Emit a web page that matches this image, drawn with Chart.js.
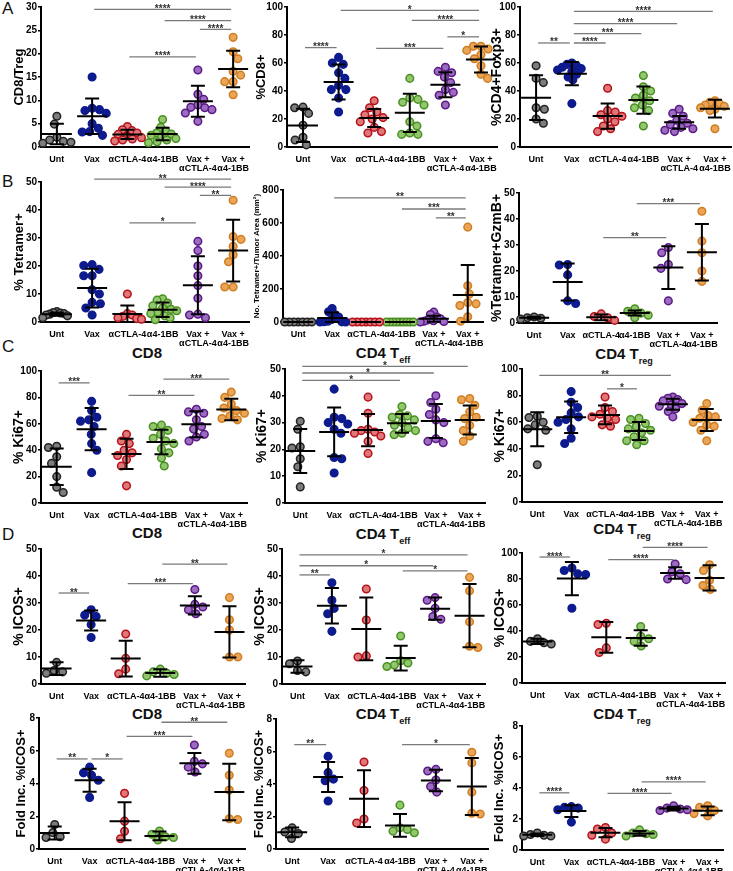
<!DOCTYPE html>
<html><head><meta charset="utf-8">
<script src="https://cdn.jsdelivr.net/npm/chart.js@4.4.1/dist/chart.umd.min.js"></script>
<style>
body{margin:0;background:#fff;}
#fig{position:relative;width:733px;height:871px;overflow:hidden;font-family:"Liberation Sans",Arial,Helvetica,sans-serif;background:#fff;}
canvas{position:absolute;}
.lt{position:absolute;font-size:17px;line-height:1;color:#111;}
.pt{position:absolute;font-size:15px;line-height:1;font-weight:bold;transform:translateX(-50%);white-space:nowrap;color:#111;}
.pt sub{font-size:9px;vertical-align:-5px;line-height:1;}
</style></head><body><div id="fig">
<div class="lt" style="left:2px;top:0px">A</div>
<div class="lt" style="left:2px;top:173px">B</div>
<div class="lt" style="left:2px;top:338px">C</div>
<div class="lt" style="left:2px;top:526px">D</div>
<div class="pt" style="left:147px;top:345px">CD8</div>
<div class="pt" style="left:383px;top:345px">CD4 T<sub>eff</sub></div>
<div class="pt" style="left:624px;top:346px">CD4 T<sub>reg</sub></div>
<div class="pt" style="left:147px;top:525px">CD8</div>
<div class="pt" style="left:383px;top:526px">CD4 T<sub>eff</sub></div>
<div class="pt" style="left:622px;top:521px">CD4 T<sub>reg</sub></div>
<div class="pt" style="left:147px;top:706px">CD8</div>
<div class="pt" style="left:383px;top:706px">CD4 T<sub>eff</sub></div>
<div class="pt" style="left:622px;top:706px">CD4 T<sub>reg</sub></div>
</div>
<script>
// ---------- categories ----------
const groups = [["Unt"], ["Vax"], ["αCTLA-4"], ["α4-1BB"], ["Vax +", "αCTLA-4"], ["Vax +", "α4-1BB"]];
const groupBorder = ['#222222', '#0d1b8e', '#b5121b', '#4a8f23', '#5b1a86', '#d07e22'];
const groupFill   = ['#7d7d7d', '#0d1b8e', '#e0787a', '#93c76e', '#9b6cc0', '#eaa558'];

// ---------- A: CD8/Treg ----------
const A1_points = [
  [6.6, 4.9, 2.1, 1.5, 1.2, 1.0, 0.8],
  [15.0, 8.3, 8.0, 7.8, 7.2, 5.0, 4.0, 3.3, 3.2, 2.5],
  [4.4, 3.7, 3.5, 3.0, 2.7, 2.3, 2.0, 1.7, 1.5, 1.3],
  [5.9, 4.2, 3.4, 3.0, 2.8, 2.5, 2.2, 1.8, 1.5, 1.1, 0.9],
  [16.5, 11.3, 10.2, 9.0, 8.5, 8.4, 8.0, 7.3, 5.5],
  [23.5, 20.4, 18.9, 16.2, 15.4, 14.0, 14.0, 11.2]
];
const A1_mean = [2.8, 6.6, 2.7, 2.8, 9.8, 16.7];
const A1_sd = [2.2, 3.8, 1.0, 1.35, 3.3, 3.9];
const A1_sig = [[2, 6, 29.5, "****"], [4, 6, 27.1, "****"], [5, 6, 25.2, "****"], [3, 5, 19.3, "****"]];

// ---------- A: %CD8+ ----------
const A2_points = [
  [28.5, 28, 24, 15.5, 7, 5, 1.5],
  [64, 60, 59, 53, 49, 44, 41, 41, 35, 25],
  [33, 28, 25, 23, 21, 20, 18, 14, 11, 10],
  [49, 35, 34, 32, 30, 18, 15, 10, 9, 9],
  [57, 54, 53, 50, 46, 41, 39, 37, 30],
  [72, 72, 70, 69, 66, 63, 58, 52, 49]
];
const A2_mean = [15.4, 46.5, 20.7, 24.4, 44.5, 62.5];
const A2_sd = [11.9, 12.5, 6.5, 13.6, 8.9, 9.3];
const A2_sig = [[1, 2, 71, "****"], [2, 6, 97.6, "*"], [4, 6, 90.5, "****"], [5, 6, 78.7, "*"], [3, 5, 70.4, "***"]];

// ---------- A: %CD4+Foxp3+ ----------
const A3_points = [
  [58, 49, 46, 28, 27, 20, 17],
  [60, 59, 58, 57, 56, 55, 54, 52, 50, 48, 31],
  [42, 26, 25, 23, 22, 20, 18, 15, 13, 11],
  [51, 43, 40, 37, 35, 33, 30, 28, 26, 15],
  [27, 24, 22, 19, 17, 16, 14, 13, 12, 11],
  [33, 32, 31, 30, 29, 28, 27, 26, 13]
];
const A3_mean = [35.2, 52.4, 22.1, 33.5, 17.6, 27.4];
const A3_sd = [16, 8.3, 9, 9.8, 4.5, 6.4];
const A3_sig = [[1, 2, 74.3, "**"], [2, 3, 74.3, "****"], [2, 4, 81, "***"], [2, 5, 88.1, "****"], [2, 6, 96.9, "****"]];

// ---------- B: % Tetramer+ ----------
const B1_points = [
  [3.7, 3.4, 3.2, 3.0, 2.8, 2.5, 2.2, 1.5],
  [20.5, 20.2, 18.8, 16.5, 16.5, 11.5, 10.0, 7.0, 6.5, 5.0, 2.5],
  [10, 3.0, 2.5, 2.0, 1.5, 1.2, 1.0],
  [8.3, 7.8, 6.8, 5.8, 5.0, 4.5, 4.0, 3.5, 3.0, 2.2, 1.5, 0.8],
  [28.8, 25.5, 20, 16.5, 13, 8.5, 2.8, 2.5, 1.5],
  [43.5, 30.5, 29.5, 27.0, 24.0, 21.5, 12.5, 12.5]
];
const B1_mean = [2.8, 12.1, 2.85, 4.4, 13.1, 25.5];
const B1_sd = [0.6, 6.9, 3.0, 2.6, 10.35, 11];
const B1_sig = [[2, 6, 51, "**"], [4, 6, 48.2, "****"], [5, 6, 45.2, "**"], [3, 5, 35.4, "*"]];

// ---------- B: No. Tetramer+/Tumor Area ----------
const B2_points = [
  [0, 0, 0, 0, 0, 0, 0],
  [82, 62, 45, 30, 15, 5, 2, 1, 0, 0],
  [0, 0, 0, 0, 0, 0, 0],
  [0, 0, 0, 0, 0, 0, 0, 0, 0],
  [60, 45, 30, 20, 12, 8, 5, 3, 0],
  [575, 220, 170, 118, 110, 100, 32, 5]
];
const B2_mean = [0, 24, 0, 0, 20, 164];
const B2_sd = [0, 34, 0, 0, 18, 181];
const B2_sig = [[2, 6, 752, "**"], [4, 6, 685, "***"], [5, 6, 631, "**"]];

// ---------- B: %Tetramer+GzmB+ ----------
const B3_points = [
  [2.3, 2.0, 1.8, 1.5],
  [22.5, 22.3, 18.5, 8.5, 7.5],
  [3.5, 2.5, 2.0, 1.0],
  [5.5, 4.5, 3.8, 3.0, 2.0],
  [29, 27, 22.5, 21, 8.5],
  [43, 31.5, 27, 20, 16]
];
const B3_mean = [2.0, 15.8, 2.2, 3.85, 21.3, 27.2];
const B3_sd = [0.4, 7.1, 1.1, 1.0, 8.2, 10.9];
const B3_sig = [[3, 5, 32.8, "**"], [4, 6, 45.9, "***"]];

// ---------- C: % Ki67+ CD8 ----------
const C1_points = [
  [43, 42, 35, 30, 20, 12, 8],
  [77, 70, 65, 63, 62, 58, 52, 45, 40, 23],
  [52, 47, 45, 40, 38, 36, 33, 28, 13],
  [59, 58, 55, 52, 49, 47, 45, 41, 38, 34, 28],
  [71, 69, 68, 63, 58, 56, 52, 50, 47],
  [84, 80, 75, 72, 70, 68, 66, 64, 63]
];
const C1_mean = [27.4, 55.9, 37.2, 46.2, 59.7, 70.8];
const C1_sd = [13.8, 16, 11.5, 9.2, 9.8, 8.2];
const C1_sig = [[1, 2, 91, "***"], [3, 5, 81.5, "**"], [4, 6, 93.8, "***"]];

// ---------- C: % Ki67+ CD4 Teff ----------
const C2_points = [
  [30.5, 27.5, 21, 20.5, 16.5, 13.5, 6],
  [42.5, 32, 31.5, 30, 29.5, 27.5, 26, 17, 16.5, 11.2],
  [39.5, 33.5, 27.5, 27, 26.5, 26, 25, 23, 18.5],
  [36, 33, 32.5, 32, 31, 30, 29, 28, 27, 26, 25.5],
  [40, 37.5, 35, 33, 31, 30, 24, 23, 22.5],
  [39, 38.5, 36.5, 34, 32, 31.5, 29, 27, 25, 23]
];
const C2_mean = [19.4, 26.5, 27.2, 29.75, 30.6, 31.0];
const C2_sd = [8.2, 9.1, 6.0, 3.5, 6.3, 5.4];
const C2_sig = [[1, 4, 45.75, "*"], [1, 5, 48.5, "*"], [1, 6, 51, "*"]];

// ---------- C: % Ki67+ CD4 Treg ----------
const C3_points = [
  [64.5, 63.5, 60, 58, 55, 54, 28],
  [83, 75, 71, 67, 64, 62, 60, 55, 48, 44],
  [79, 71, 68, 66, 64, 63, 62, 58, 57],
  [63, 62, 59, 57, 55, 54, 52, 49, 46, 46, 43],
  [79, 78, 77, 76, 74, 73, 72, 70, 68, 64],
  [74, 69, 65, 64, 63, 60, 58, 57, 54, 46]
];
const C3_mean = [54.7, 63.7, 65.5, 53.4, 73.5, 61.7];
const C3_sd = [12.8, 11.9, 7, 6.8, 4.1, 8.3];
const C3_sig = [[1, 5, 95.2, "**"], [3, 4, 85.1, "*"]];

// ---------- D: % ICOS+ CD8 ----------
const D1a_points = [
  [8.0, 5.0, 4.5, 4.0],
  [27.5, 25.5, 25, 22, 17.2],
  [18.5, 9.5, 5.5, 3.8],
  [5.5, 4.5, 4.0, 3.5, 3.0],
  [35, 29.5, 28.5, 27.5, 26],
  [32, 23.8, 20.0, 10.0, 10.0]
];
const D1a_mean = [5.7, 23.5, 9.4, 4.1, 29.1, 19.3];
const D1a_sd = [2.4, 3.7, 6.6, 1.4, 3.4, 9.5];
const D1a_sig = [[1, 2, 33.7, "**"], [3, 5, 37.2, "***"], [4, 6, 44.4, "**"]];

// ---------- D: % ICOS+ CD4 Teff ----------
const D1b_points = [
  [8.5, 7.5, 5, 4.5],
  [37.5, 31, 28, 26, 19.5],
  [35.2, 23.7, 10.4, 10],
  [17.8, 8.6, 7.8, 7.0, 6.5],
  [32, 31, 28, 25, 24],
  [39.5, 34.5, 23, 14, 13.5]
];
const D1b_mean = [6.5, 29, 20.4, 9.6, 27.9, 25.3];
const D1b_sd = [2.3, 6.6, 11.6, 4.6, 4.1, 11.7];
const D1b_sig = [[1, 2, 40.4, "**"], [1, 5, 43.8, "*"], [1, 6, 47.8, "*"], [4, 6, 41.9, "*"]];

// ---------- D: % ICOS+ CD4 Treg ----------
const D1c_points = [
  [34, 32, 31, 30],
  [88.5, 86.5, 84, 83.5, 57.5],
  [46, 45, 27, 23.5],
  [43.5, 36, 34, 32, 28.5],
  [91.5, 85.5, 84, 80, 79.5],
  [91, 86.5, 79, 75, 72]
];
const D1c_mean = [32, 80.3, 35.1, 34.6, 84.6, 80.8];
const D1c_sd = [2, 12.8, 11.8, 6, 4.4, 9.7];
const D1c_sig = [[1, 2, 96.9, "****"], [3, 5, 94.9, "****"], [4, 6, 104.4, "****"]];

// ---------- D: Fold Inc. %ICOS+ CD8 ----------
const D2a_points = [
  [1.5, 1.0, 0.75, 0.7],
  [5.0, 4.65, 4.5, 4.2, 3.15],
  [3.4, 1.7, 1.08, 0.63],
  [1.1, 0.9, 0.75, 0.7, 0.55],
  [6.35, 5.35, 5.2, 5.0, 4.7],
  [5.85, 4.5, 3.6, 1.85, 1.8]
];
const D2a_mean = [0.98, 4.2, 1.69, 0.8, 5.23, 3.48];
const D2a_sd = [0.4, 0.7, 1.16, 0.27, 0.64, 1.73];
const D2a_sig = [[1, 2, 5.5, "**"], [2, 3, 5.5, "*"], [3, 5, 6.88, "***"], [4, 6, 7.74, "**"]];

// ---------- D: Fold Inc. %ICOS+ CD4 Teff ----------
const D2b_points = [
  [1.3, 1.05, 0.95, 0.65],
  [5.7, 4.7, 4.3, 4.2, 2.95],
  [5.35, 3.6, 1.85, 1.6],
  [2.7, 1.3, 1.2, 1.1, 1.0],
  [4.9, 4.8, 4.25, 3.85, 3.5],
  [5.95, 5.3, 3.5, 2.2, 2.15]
];
const D2b_mean = [1.03, 4.43, 3.1, 1.45, 4.22, 3.85];
const D2b_sd = [0.3, 0.92, 1.74, 0.7, 0.66, 1.75];
const D2b_sig = [[1, 2, 6.42, "**"], [4, 6, 6.42, "*"]];

// ---------- D: Fold Inc. %ICOS+ CD4 Treg ----------
const D2c_points = [
  [1.1, 1.0, 0.95, 0.9, 0.9],
  [2.8, 2.75, 2.7, 2.6, 1.8],
  [1.45, 1.35, 1.1, 0.95, 0.7],
  [1.3, 1.1, 1.05, 1.0, 0.9],
  [2.85, 2.7, 2.65, 2.6, 2.55],
  [2.85, 2.75, 2.55, 2.35, 2.2]
];
const D2c_mean = [0.98, 2.51, 1.12, 1.07, 2.67, 2.53];
const D2c_sd = [0.08, 0.38, 0.3, 0.15, 0.12, 0.28];
const D2c_sig = [[1, 2, 3.69, "****"], [3, 5, 3.65, "****"], [4, 6, 4.4, "****"]];

// ---------- panel layout (page pixels of axes) ----------
const panels = [
  {pts: A1_points, mean: A1_mean, sd: A1_sd, sig: A1_sig, ax: 41, top: 6.5, bot: 147, right: 249, max: 30, step: 5, title: 'CD8/Treg', ts: 13, toff: 22},
  {pts: A2_points, mean: A2_mean, sd: A2_sd, sig: A2_sig, ax: 287, top: 6.5, bot: 147, right: 497, max: 100, step: 20, title: '%CD8+', ts: 13, toff: 26},
  {pts: A3_points, mean: A3_mean, sd: A3_sd, sig: A3_sig, ax: 520, top: 7, bot: 147, right: 731, max: 100, step: 20, title: '%CD4+Foxp3+', ts: 14, toff: 23},
  {pts: B1_points, mean: B1_mean, sd: B1_sd, sig: B1_sig, ax: 41, top: 182, bot: 322, right: 249, max: 50, step: 10, title: '% Tetramer+', ts: 13, toff: 22},
  {pts: B2_points, mean: B2_mean, sd: B2_sd, sig: B2_sig, ax: 283, top: 190, bot: 322, right: 483, max: 800, step: 200, title: 'No. Tetramer+/Tumor Area (mm²)', ts: 8, toff: 26},
  {pts: B3_points, mean: B3_mean, sd: B3_sd, sig: B3_sig, ax: 519, top: 193, bot: 323, right: 717, max: 50, step: 10, title: '%Tetramer+GzmB+', ts: 14, toff: 22},
  {pts: C1_points, mean: C1_mean, sd: C1_sd, sig: C1_sig, ax: 41, top: 371, bot: 503, right: 247, max: 100, step: 20, title: '% Ki67+', ts: 14, toff: 22},
  {pts: C2_points, mean: C2_mean, sd: C2_sd, sig: C2_sig, ax: 285, top: 369, bot: 503, right: 485, max: 50, step: 10, title: '% Ki67+', ts: 14, toff: 23},
  {pts: C3_points, mean: C3_mean, sd: C3_sd, sig: C3_sig, ax: 522, top: 369, bot: 502, right: 722, max: 100, step: 20, title: '% Ki67+', ts: 14, toff: 22},
  {pts: D1a_points, mean: D1a_mean, sd: D1a_sd, sig: D1a_sig, ax: 41, top: 549, bot: 684, right: 245, max: 50, step: 10, title: '% ICOS+', ts: 14, toff: 22},
  {pts: D1b_points, mean: D1b_mean, sd: D1b_sd, sig: D1b_sig, ax: 282, top: 549, bot: 684, right: 485, max: 50, step: 10, title: '% ICOS+', ts: 14, toff: 22},
  {pts: D1c_points, mean: D1c_mean, sd: D1c_sd, sig: D1c_sig, ax: 522, top: 553, bot: 683, right: 725, max: 100, step: 20, title: '% ICOS+', ts: 14, toff: 22},
  {pts: D2a_points, mean: D2a_mean, sd: D2a_sd, sig: D2a_sig, ax: 39, top: 718, bot: 849, right: 245, max: 8, step: 2, title: 'Fold Inc. %ICOS+', ts: 13, toff: 18},
  {pts: D2b_points, mean: D2b_mean, sd: D2b_sd, sig: D2b_sig, ax: 276, top: 719, bot: 849, right: 488, max: 8, step: 2, title: 'Fold Inc. %ICOS+', ts: 13, toff: 17},
  {pts: D2c_points, mean: D2c_mean, sd: D2c_sd, sig: D2c_sig, ax: 522, top: 726, bot: 850, right: 723, max: 8, step: 2, title: 'Fold Inc. %ICOS+', ts: 13, toff: 23}
];

const FONT = "'Liberation Sans', Arial, Helvetica, sans-serif";
const YW = 40, PT = 18, XH = 24, PR = 8, R = 3.8;

function statsPlugin(p) {
  return {
    id: 'stats',
    afterDatasetsDraw(chart) {
      const ctx = chart.ctx, xs = chart.scales.x, ys = chart.scales.y;
      ctx.save();
      ctx.strokeStyle = '#000';
      ctx.lineWidth = 2;
      ctx.lineCap = 'butt';
      p.mean.forEach((m, i) => {
        const cx = xs.getPixelForValue(i + 1);
        const yM = ys.getPixelForValue(m);
        const yH = ys.getPixelForValue(m + p.sd[i]);
        const yL = ys.getPixelForValue(Math.max(0, m - p.sd[i]));
        ctx.beginPath();
        ctx.moveTo(cx - 15, yM); ctx.lineTo(cx + 15, yM);
        ctx.moveTo(cx, yH); ctx.lineTo(cx, yL);
        ctx.moveTo(cx - 7, yH); ctx.lineTo(cx + 7, yH);
        ctx.moveTo(cx - 7, yL); ctx.lineTo(cx + 7, yL);
        ctx.stroke();
      });
      p.sig.forEach(s => {
        const x1 = xs.getPixelForValue(s[0]) + 2;
        const x2 = xs.getPixelForValue(s[1]) - 2;
        const y = ys.getPixelForValue(s[2]);
        ctx.strokeStyle = '#7a7a7a';
        ctx.lineWidth = 1.3;
        ctx.beginPath(); ctx.moveTo(x1, y); ctx.lineTo(x2, y); ctx.stroke();
        ctx.fillStyle = '#333';
        ctx.font = 'bold 10px ' + FONT;
        ctx.textAlign = 'center';
        ctx.textBaseline = 'alphabetic';
        ctx.fillText(s[3], (x1 + x2) / 2, y + 2.5);
      });
      ctx.restore();
    }
  };
}

function swarm(chart, pts) {
  const xs = chart.scales.x, ys = chart.scales.y;
  const unit = Math.abs(xs.getPixelForValue(2) - xs.getPixelForValue(1));
  const d = 2 * R + 0.8;
  const lim = unit * 0.4;
  pts.forEach((vals, gi) => {
    const placed = [];
    const order = vals.map((v, i) => i).sort((a, b) => vals[b] - vals[a]);
    const offs = new Array(vals.length).fill(0);
    order.forEach((i, k) => {
      const py = ys.getPixelForValue(vals[i]);
      const iv = [];
      placed.forEach(q => {
        const dy = py - q.py;
        if (Math.abs(dy) < d) { const w = Math.sqrt(d * d - dy * dy); iv.push([q.dx - w, q.dx + w]); }
      });
      const cands = [0];
      iv.forEach(v => cands.push(v[0], v[1]));
      const sign = (k % 2 === 0) ? 1 : -1;
      cands.sort((a, b) => (Math.abs(a) - Math.abs(b)) || (sign * (b - a)));
      let best = 0;
      for (const c of cands) {
        if (iv.every(v => c <= v[0] + 1e-6 || c >= v[1] - 1e-6)) { best = c; break; }
      }
      offs[i] = best;
      placed.push({py, dx: best});
    });
    const m = Math.max(...offs.map(Math.abs));
    const s = m > lim ? lim / m : 1;
    chart.data.datasets[gi].data = vals.map((v, i) => ({x: gi + 1 + offs[i] * s / unit, y: v}));
  });
  chart.update('none');
}

const fig = document.getElementById('fig');
panels.forEach(p => {
  const cv = document.createElement('canvas');
  const w = (p.right - p.ax) + YW + PR;
  const h = (p.bot - p.top) + PT + XH;
  cv.width = w; cv.height = h;
  cv.style.left = (p.ax - YW) + 'px';
  cv.style.top = (p.top - PT) + 'px';
  cv.style.width = w + 'px'; cv.style.height = h + 'px';
  fig.appendChild(cv);
  const datasets = p.pts.map((vals, gi) => ({
    data: vals.map(v => ({x: gi + 1, y: v})),
    pointRadius: R,
    pointBorderWidth: 1.5,
    borderColor: groupBorder[gi],
    backgroundColor: groupFill[gi],
    pointBackgroundColor: groupFill[gi],
    pointBorderColor: groupBorder[gi],
    showLine: false,
    clip: false
  }));
  const chart = new Chart(cv, {
    type: 'scatter',
    data: {datasets},
    options: {
      responsive: false, animation: false, events: [],
      devicePixelRatio: 1,
      layout: {padding: {top: PT, right: PR, left: 0, bottom: 0}},
      plugins: {legend: {display: false}, tooltip: {enabled: false}},
      scales: {
        x: {
          type: 'linear', min: 0.55, max: 6.45,
          afterBuildTicks: s => { s.ticks = groups.map((g, i) => ({value: i + 1})); },
          afterFit: s => { s.height = XH; },
          ticks: {
            autoSkip: false, maxRotation: 0, minRotation: 0, padding: 0, color: '#000',
            font: {size: 9, weight: 'bold', family: FONT, lineHeight: 1.0},
            callback: v => groups[Math.round(v) - 1] || ''
          },
          grid: {display: false},
          border: {display: true, color: '#000', width: 2}
        },
        y: {
          min: 0, max: p.max,
          afterFit: s => { s.width = YW; },
          ticks: {stepSize: p.step, color: '#000', padding: 1, font: {size: 10, weight: 'bold', family: FONT}},
          grid: {drawOnChartArea: false, drawTicks: true, tickLength: 3, color: '#000', lineWidth: 1.5},
          border: {display: true, color: '#000', width: 2},
          title: {
            display: true, text: p.title, color: '#000',
            font: {size: p.ts, weight: 'bold', family: FONT},
            padding: {top: Math.max(0, YW - p.toff - p.ts * 0.6), bottom: 0}
          }
        }
      }
    },
    plugins: [statsPlugin(p)]
  });
  swarm(chart, p.pts);
});
</script>
</body></html>
